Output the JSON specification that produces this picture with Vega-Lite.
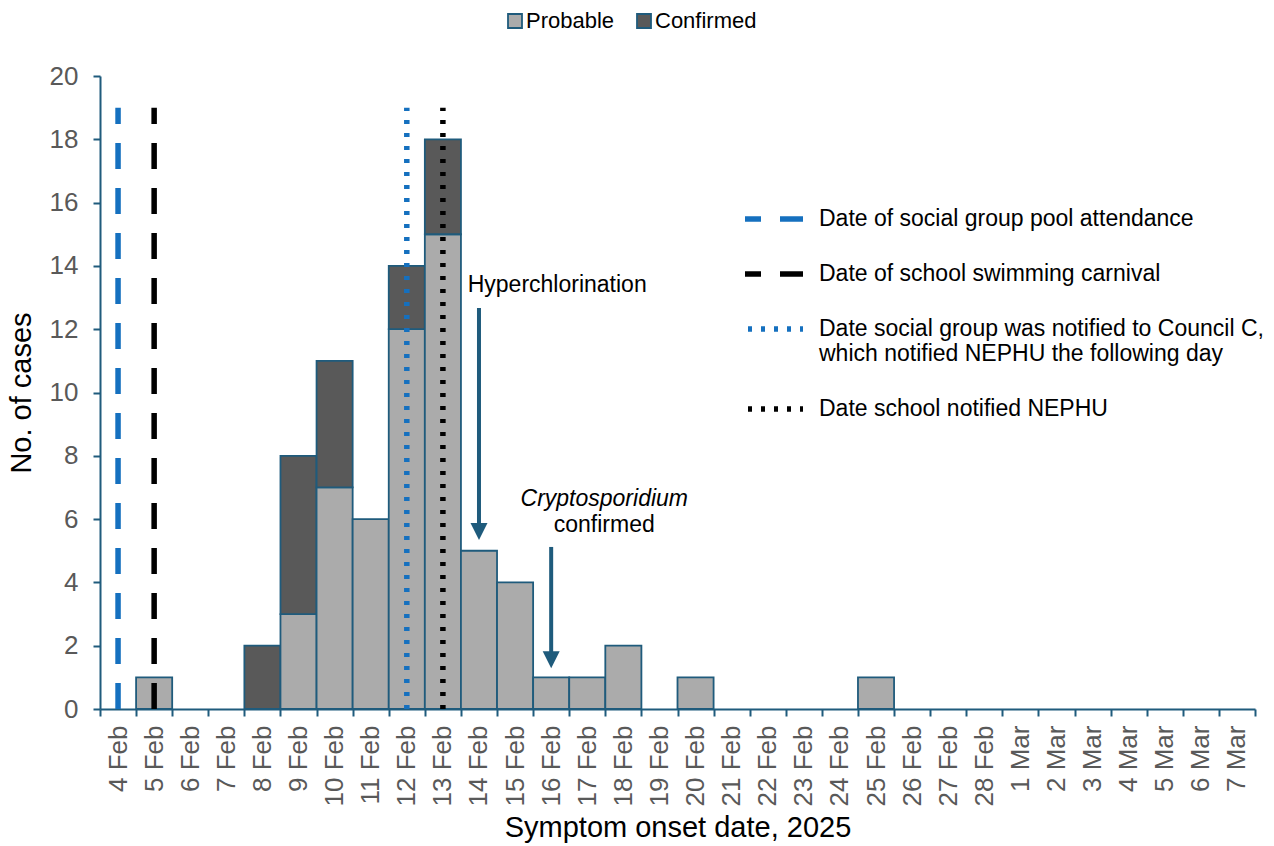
{
  "$schema": "https://vega.github.io/schema/vega-lite/v6.json",
  "width": 1155,
  "height": 633,
  "autosize": {"type": "none"},
  "padding": {"left": 100, "top": 76, "right": 19, "bottom": 137},
  "config": {
    "font": "Liberation Sans",
    "view": {"stroke": null},
    "axis": {"grid": false}
  },
  "layer": [
    {
      "data": {
        "values": [
          {"date": "5 Feb", "status": "Probable", "cases": 1},
          {"date": "8 Feb", "status": "Confirmed", "cases": 2},
          {"date": "9 Feb", "status": "Probable", "cases": 3},
          {"date": "9 Feb", "status": "Confirmed", "cases": 5},
          {"date": "10 Feb", "status": "Probable", "cases": 7},
          {"date": "10 Feb", "status": "Confirmed", "cases": 4},
          {"date": "11 Feb", "status": "Probable", "cases": 6},
          {"date": "12 Feb", "status": "Probable", "cases": 12},
          {"date": "12 Feb", "status": "Confirmed", "cases": 2},
          {"date": "13 Feb", "status": "Probable", "cases": 15},
          {"date": "13 Feb", "status": "Confirmed", "cases": 3},
          {"date": "14 Feb", "status": "Probable", "cases": 5},
          {"date": "15 Feb", "status": "Probable", "cases": 4},
          {"date": "16 Feb", "status": "Probable", "cases": 1},
          {"date": "17 Feb", "status": "Probable", "cases": 1},
          {"date": "18 Feb", "status": "Probable", "cases": 2},
          {"date": "20 Feb", "status": "Probable", "cases": 1},
          {"date": "25 Feb", "status": "Probable", "cases": 1}
        ]
      },
      "mark": {"type": "bar", "stroke": "#1f5b7c", "strokeWidth": 1.8},
      "encoding": {
        "x": {
          "field": "date",
          "type": "ordinal",
          "scale": {
            "domain": ["4 Feb","5 Feb","6 Feb","7 Feb","8 Feb","9 Feb","10 Feb","11 Feb","12 Feb","13 Feb","14 Feb","15 Feb","16 Feb","17 Feb","18 Feb","19 Feb","20 Feb","21 Feb","22 Feb","23 Feb","24 Feb","25 Feb","26 Feb","27 Feb","28 Feb","1 Mar","2 Mar","3 Mar","4 Mar","5 Mar","6 Mar","7 Mar"],
            "paddingInner": 0,
            "paddingOuter": 0
          },
          "axis": {
            "title": "Symptom onset date, 2025",
            "titleFontSize": 29,
            "titleFontWeight": "normal",
            "titleColor": "#000000",
            "titlePadding": 8,
            "labelAngle": -90,
            "labelAlign": "right",
            "labelBaseline": "middle",
            "labelFontSize": 26,
            "labelColor": "#595959",
            "labelPadding": 9,
            "tickBand": "extent",
            "tickSize": 7,
            "tickWidth": 2,
            "tickColor": "#1f5b7c",
            "domainColor": "#1f5b7c",
            "domainWidth": 2
          }
        },
        "y": {
          "field": "cases",
          "type": "quantitative",
          "stack": "zero",
          "scale": {"domain": [0, 20]},
          "axis": {
            "title": "No. of cases",
            "titleFontSize": 29,
            "titleFontWeight": "normal",
            "titleColor": "#000000",
            "titlePadding": 13,
            "values": [0, 2, 4, 6, 8, 10, 12, 14, 16, 18, 20],
            "labelFontSize": 26,
            "labelColor": "#595959",
            "labelPadding": 15,
            "tickSize": 7,
            "tickWidth": 2,
            "tickColor": "#1f5b7c",
            "domainColor": "#1f5b7c",
            "domainWidth": 2
          }
        },
        "fill": {
          "field": "status",
          "type": "nominal",
          "scale": {"domain": ["Probable", "Confirmed"], "range": ["#ababab", "#595959"]},
          "legend": {
            "title": null,
            "orient": "none",
            "direction": "horizontal",
            "legendX": 404,
            "legendY": -66,
            "symbolType": "square",
            "symbolSize": 196,
            "symbolStrokeColor": "#1f5b7c",
            "symbolStrokeWidth": 1.8,
            "symbolOpacity": 1,
            "labelFontSize": 22,
            "labelColor": "#000000",
            "labelOffset": 0,
            "columnPadding": 18
          }
        },
        "order": {"field": "status", "sort": "descending"}
      }
    },
    {
      "data": {
        "values": [
          {"date": "4 Feb", "event": "Date of social group pool attendance"},
          {"date": "5 Feb", "event": "Date of school swimming carnival"},
          {"date": "12 Feb", "event": "Date social group was notified to Council C, which notified NEPHU the following day"},
          {"date": "13 Feb", "event": "Date school notified NEPHU"}
        ]
      },
      "mark": {"type": "rule", "strokeWidth": 5.5, "strokeCap": "butt"},
      "encoding": {
        "x": {"field": "date", "type": "ordinal"},
        "y": {"datum": 0},
        "y2": {"datum": 19},
        "stroke": {
          "field": "event",
          "type": "nominal",
          "scale": {
            "domain": ["Date of social group pool attendance", "Date of school swimming carnival", "Date social group was notified to Council C, which notified NEPHU the following day", "Date school notified NEPHU"],
            "range": ["#1570bf", "#000000", "#1570bf", "#000000"]
          },
          "legend": {
            "title": null,
            "orient": "none",
            "legendX": 642,
            "legendY": 111,
            "symbolType": "stroke",
            "symbolSize": 3364,
            "symbolStrokeWidth": 5.5,
            "symbolDashOffset": 10,
            "labelFontSize": 23,
            "labelColor": "#000000",
            "labelOffset": 13,
            "labelLimit": 600,
            "rowPadding": 11,
            "labelExpr": "datum.label == 'Date social group was notified to Council C, which notified NEPHU the following day' ? ['Date social group was notified to Council C,', 'which notified NEPHU the following day'] : datum.label"
          }
        },
        "strokeDash": {
          "field": "event",
          "type": "nominal",
          "scale": {
            "domain": ["Date of social group pool attendance", "Date of school swimming carnival", "Date social group was notified to Council C, which notified NEPHU the following day", "Date school notified NEPHU"],
            "range": [[26, 19], [26, 19], [4, 9], [4, 9]]
          },
          "legend": {
            "title": null,
            "orient": "none",
            "legendX": 642,
            "legendY": 111,
            "symbolType": "stroke",
            "symbolSize": 3364,
            "symbolStrokeWidth": 5.5,
            "symbolDashOffset": 10,
            "labelFontSize": 23,
            "labelColor": "#000000",
            "labelOffset": 13,
            "labelLimit": 600,
            "rowPadding": 11,
            "labelExpr": "datum.label == 'Date social group was notified to Council C, which notified NEPHU the following day' ? ['Date social group was notified to Council C,', 'which notified NEPHU the following day'] : datum.label"
          }
        }
      }
    },
    {
      "data": {
        "values": [
          {"date": "14 Feb", "start": 12.67, "end": 5.7},
          {"date": "16 Feb", "start": 5.12, "end": 1.7}
        ]
      },
      "mark": {"type": "rule", "stroke": "#1f5b7c", "strokeWidth": 4},
      "encoding": {
        "x": {"field": "date", "type": "ordinal"},
        "y": {"field": "start", "type": "quantitative"},
        "y2": {"field": "end"}
      }
    },
    {
      "data": {
        "values": [
          {"date": "14 Feb", "tip": 5.61},
          {"date": "16 Feb", "tip": 1.56}
        ]
      },
      "mark": {"type": "point", "shape": "M-1,-1L1,-1L0,1Z", "size": 289, "filled": true, "fill": "#1f5b7c", "opacity": 1, "strokeWidth": 0},
      "encoding": {
        "x": {"field": "date", "type": "ordinal"},
        "y": {"field": "tip", "type": "quantitative"}
      }
    },
    {
      "data": {"values": [{"date": "16 Feb", "y": 13.4, "label": "Hyperchlorination"}]},
      "mark": {"type": "text", "fontSize": 23, "color": "#000000", "dx": 6, "baseline": "middle"},
      "encoding": {
        "x": {"field": "date", "type": "ordinal"},
        "y": {"field": "y", "type": "quantitative"},
        "text": {"field": "label"}
      }
    },
    {
      "data": {"values": [{"date": "17 Feb", "y": 6.62, "label": "Cryptosporidium"}]},
      "mark": {"type": "text", "fontSize": 23, "fontStyle": "italic", "color": "#000000", "dx": 17, "baseline": "middle"},
      "encoding": {
        "x": {"field": "date", "type": "ordinal"},
        "y": {"field": "y", "type": "quantitative"},
        "text": {"field": "label"}
      }
    },
    {
      "data": {"values": [{"date": "17 Feb", "y": 5.81, "label": "confirmed"}]},
      "mark": {"type": "text", "fontSize": 23, "color": "#000000", "dx": 17, "baseline": "middle"},
      "encoding": {
        "x": {"field": "date", "type": "ordinal"},
        "y": {"field": "y", "type": "quantitative"},
        "text": {"field": "label"}
      }
    }
  ]
}
